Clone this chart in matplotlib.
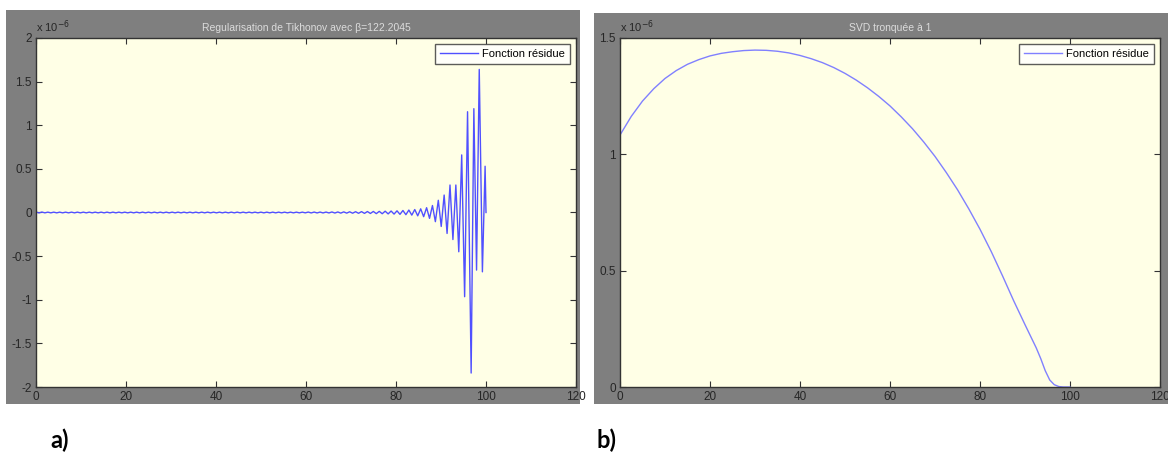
import numpy as np
import matplotlib
matplotlib.use("Agg")
import matplotlib.pyplot as plt
from matplotlib.patches import Rectangle

# ---------------- data ----------------
# Panel a) : Tikhonov residual (units of 1e-6)
tik_flat_values = [
    0.006, -0.005, 0.005, -0.004, 0.004, -0.004, 0.004, -0.004, 0.004, -0.004,
    0.004, -0.004, 0.004, -0.004, 0.004, -0.004, 0.004, -0.004, 0.004, -0.004,
    0.004, -0.004, 0.004, -0.004, 0.004, -0.004, 0.004, -0.004, 0.004, -0.004,
    0.004, -0.004, 0.004, -0.004, 0.004, -0.004, 0.004, -0.004, 0.004, -0.004,
    0.004, -0.004, 0.004, -0.004, 0.004, -0.004, 0.004, -0.004, 0.004, -0.004,
    0.004, -0.004, 0.004, -0.004, 0.004, -0.004, 0.004, -0.004, 0.004, -0.004,
    0.004, -0.004, 0.004, -0.004, 0.004, -0.004, 0.004, -0.004, 0.004, -0.004,
    0.004, -0.004, 0.004, -0.004, 0.004, -0.004, 0.004, -0.004, 0.004, -0.004,
    0.004, -0.004, 0.004, -0.004, 0.004, -0.004, 0.004, -0.004, 0.004, -0.004,
    0.004, -0.004, 0.005, -0.005, 0.005, -0.005, 0.005, -0.005, 0.005, -0.005,
    0.006, -0.006, 0.006, -0.007, 0.007, -0.007, 0.008, -0.008, 0.009, -0.009,
    0.010, -0.010, 0.011, -0.011, 0.012, -0.013, 0.013, -0.014, 0.015, -0.016,
    0.017, -0.018, 0.019, -0.021, 0.023, -0.025, 0.028, -0.030, 0.034, -0.038,
    0.042, -0.048, 0.055,
]
tik_flat_end = 86.8
tik_burst_x = [87.45, 88.1, 88.75, 89.4, 90.05, 90.7, 91.35, 92.0, 92.65, 93.3,
               93.95, 94.6, 95.25, 95.9, 96.7, 97.3, 97.9, 98.5, 99.2, 99.8, 100.0]
tik_burst_v = [-0.067, 0.08, -0.105, 0.14, -0.16, 0.20, -0.24, 0.315, -0.31, 0.315,
               -0.45, 0.66, -0.965, 1.155, -1.84, 1.19, -0.66, 1.64, -0.68, 0.53, 0.0]

# Panel b) : truncated SVD residual (units of 1e-6)
svd_x = [0, 2.5, 5, 7.5, 10, 12.5, 15, 17.5, 20, 22.5, 25, 27.5, 30, 32.5, 35,
         37.5, 40, 42.5, 45, 47.5, 50, 52.5, 55, 57.5, 60, 62.5, 65, 67.5, 70,
         72.5, 75, 77.5, 80, 82.5, 85, 87.5, 90, 92.5, 93.5, 94.5, 95.5, 96.5,
         97.5, 98.5, 100]
svd_v = [1.083, 1.163, 1.229, 1.282, 1.326, 1.360, 1.387, 1.407, 1.423, 1.434,
         1.441, 1.446, 1.448, 1.447, 1.443, 1.436, 1.425, 1.411, 1.394, 1.373,
         1.348, 1.319, 1.286, 1.249, 1.208, 1.161, 1.110, 1.053, 0.991, 0.922,
         0.848, 0.766, 0.678, 0.582, 0.478, 0.370, 0.268, 0.168, 0.122, 0.070,
         0.030, 0.010, 0.002, 0.0, 0.0]

x_ticks = [0, 20, 40, 60, 80, 100, 120]
y_ticks_a = [-2, -1.5, -1, -0.5, 0, 0.5, 1, 1.5, 2]
y_ticks_b = [0, 0.5, 1, 1.5]
title_a = "Regularisation de Tikhonov avec β=122.2045"
title_b = "SVD tronquée à 1"
legend_label = "Fonction résidue"

# ---------------- figure ----------------
W, H = 1168, 468
plt.rcParams["font.family"] = ["Liberation Sans", "DejaVu Sans"]
fig = plt.figure(figsize=(W / 100, H / 100), dpi=100)
fig.patch.set_facecolor("white")

def fx(px):
    return px / W

def fy(py):
    return 1 - py / H

gray = "#7f7f7f"
fig.patches.append(Rectangle((fx(6), fy(404)), fx(574), (404 - 10) / H,
                             transform=fig.transFigure, facecolor=gray,
                             edgecolor="none", zorder=-10))
fig.patches.append(Rectangle((fx(594), fy(404)), fx(574), (404 - 13) / H,
                             transform=fig.transFigure, facecolor=gray,
                             edgecolor="none", zorder=-10))

def make_axes(left_px):
    ax = fig.add_axes([fx(left_px), fy(387), fx(540), 349 / H])
    ax.set_zorder(5)
    ax.set_facecolor("#ffffe6")
    for s in ax.spines.values():
        s.set_color("#333333")
        s.set_linewidth(1.0)
    ax.tick_params(direction="in", length=4, width=0.8, color="#333333",
                   labelsize=8.5, labelcolor="#262626", top=True, right=True,
                   pad=3)
    return ax

def style_legend(leg):
    leg.get_frame().set_edgecolor("#333333")
    leg.get_frame().set_linewidth(1.0)

# panel a
ax1 = make_axes(36)
flat_x = np.linspace(0, tik_flat_end, len(tik_flat_values))
xa = np.concatenate([flat_x, tik_burst_x])
va = np.concatenate([tik_flat_values, tik_burst_v])
ax1.plot(xa, va, color="#5050ff", lw=1.0, label=legend_label)
ax1.set_xlim(0, 120)
ax1.set_ylim(-2, 2)
ax1.set_xticks(x_ticks)
ax1.set_yticks(y_ticks_a)
ax1.set_xticklabels([str(t) for t in x_ticks])
ax1.set_yticklabels(["%g" % t for t in y_ticks_a])
ax1.set_title(title_a, color="#dcdcdc", fontsize=7.5, pad=5)
ax1.text(0.0, 1.01, r"x 10$^{-6}$", transform=ax1.transAxes, fontsize=8,
         color="#262626", ha="left", va="bottom")
leg1 = ax1.legend(loc="upper right", fontsize=8, frameon=True, fancybox=False,
                  handlelength=3.4, borderaxespad=0.55, borderpad=0.45,
                  handletextpad=0.4)
style_legend(leg1)

# panel b
ax2 = make_axes(620)
ax2.plot(svd_x, svd_v, color="#8080ff", lw=1.0, label=legend_label)
ax2.set_xlim(0, 120)
ax2.set_ylim(0, 1.5)
ax2.set_xticks(x_ticks)
ax2.set_yticks(y_ticks_b)
ax2.set_xticklabels([str(t) for t in x_ticks])
ax2.set_yticklabels(["%g" % t for t in y_ticks_b])
ax2.set_title(title_b, color="#dcdcdc", fontsize=7.5, pad=5)
ax2.text(0.0, 1.01, r"x 10$^{-6}$", transform=ax2.transAxes, fontsize=8,
         color="#262626", ha="left", va="bottom")
leg2 = ax2.legend(loc="upper right", fontsize=8, frameon=True, fancybox=False,
                  handlelength=3.4, borderaxespad=0.55, borderpad=0.45,
                  handletextpad=0.4)
style_legend(leg2)

# panel labels
fig.text(fx(50), fy(440), "a)", fontsize=17, fontweight="bold",
         family=["Lato", "DejaVu Sans"], ha="left", va="center")
fig.text(fx(597), fy(440), "b)", fontsize=17, fontweight="bold",
         family=["Lato", "DejaVu Sans"], ha="left", va="center")

fig.savefig("out.png", dpi=100, facecolor="white")
